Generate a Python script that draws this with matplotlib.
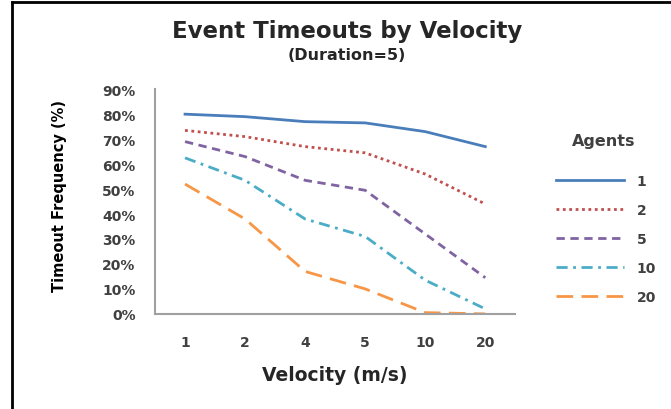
import matplotlib.pyplot as plt
from matplotlib.lines import Line2D

velocity = ['1', '2', '4', '5', '10', '20']
agents = ['1', '2', '5', '10', '20']
timeout_1 = [0.80, 0.79, 0.77, 0.765, 0.73, 0.67]
timeout_2 = [0.735, 0.71, 0.67, 0.645, 0.56, 0.44]
timeout_5 = [0.69, 0.63, 0.535, 0.495, 0.32, 0.145]
timeout_10 = [0.625, 0.535, 0.38, 0.31, 0.135, 0.02]
timeout_20 = [0.52, 0.38, 0.17, 0.10, 0.005, 0.0]

series = [timeout_1, timeout_2, timeout_5, timeout_10, timeout_20]
colors = ['#4A7EBB', '#C0504D', '#8064A2', '#4BACC6', '#F79646']
styles = ['-', (0, (1, 1.3)), (0, (3, 2)), (0, (4, 2, 1, 2)), (0, (6, 3))]

plt.rcParams['font.family'] = ['DejaVu Sans']
plt.rcParams['font.weight'] = 'bold'
plt.rcParams['axes.labelweight'] = 'bold'
txt = '#262626'

fig = plt.figure(figsize=(6.71, 4.10), dpi=100)
ax = fig.add_axes([0.231, 0.232, 0.537, 0.548])

x = range(len(velocity))
lines = []
for vals, c, ls, lab in zip(series, colors, styles, agents):
    ln, = ax.plot(x, vals, color=c, linestyle=ls, linewidth=2, label=lab)
    lines.append(ln)

ax.set_xlim(-0.5, len(velocity) - 0.5)
ax.set_ylim(0, 0.9)
ax.set_xticks(list(x))
ax.set_xticklabels(velocity)
ax.set_yticks([i / 10 for i in range(10)])
ax.set_yticklabels(['%d%%' % (i * 10) for i in range(10)])
ax.tick_params(length=0, labelsize=10, labelcolor='#404040')
ax.tick_params(axis='y', pad=14)
ax.tick_params(axis='x', pad=15)
for s in ['top', 'right']:
    ax.spines[s].set_visible(False)
for s in ['left', 'bottom']:
    ax.spines[s].set_color('#A0A0A0')
    ax.spines[s].set_linewidth(1.5)

ax.set_xlabel('Velocity (m/s)', fontsize=13.5, color=txt, labelpad=12)
ax.set_ylabel('Timeout Frequency (%)', fontsize=10.5, color='black')
ax.yaxis.set_label_coords(-0.244, 0.53)

fig.text(0.517, 0.922, 'Event Timeouts by Velocity', ha='center', va='center',
         fontsize=16.5, color=txt)
fig.text(0.517, 0.865, '(Duration=5)', ha='center', va='center',
         fontsize=11.5, color=txt)

fig.text(0.900, 0.654, 'Agents', ha='center', va='center', fontsize=11.5, color='#404040')
leg = fig.legend(handles=lines, loc='upper left', bbox_to_anchor=(0.829, 0.574),
                 frameon=False, fontsize=10, borderpad=0, borderaxespad=0,
                 handlelength=4.9, labelspacing=1.08, handletextpad=0.9)
for t in leg.get_texts():
    t.set_color('#404040')

# outer frame (left and top edges visible in the reference)
fig.add_artist(Line2D([12 / 671, 12 / 671], [0, 1 - 3 / 410], color='black', linewidth=2,
                      transform=fig.transFigure))
fig.add_artist(Line2D([12 / 671, 1], [1 - 3 / 410, 1 - 3 / 410], color='black', linewidth=2,
                      transform=fig.transFigure))

fig.savefig('out.png', dpi=100)
